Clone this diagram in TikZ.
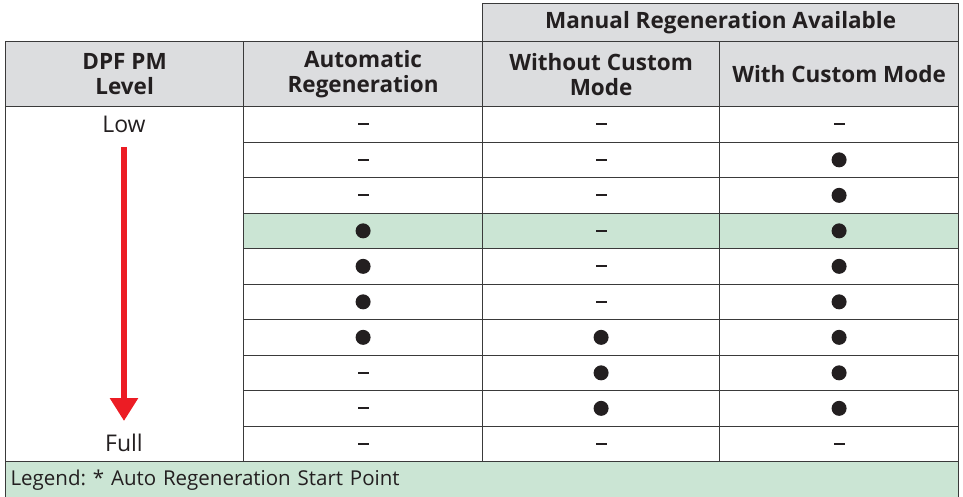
\documentclass[tikz,border=0pt]{standalone}
\usepackage{fontspec}
\setmainfont{Open Sans}
\usepackage{xcolor}
\usetikzlibrary{arrows.meta}
\usetikzlibrary{positioning}
\usetikzlibrary{calc}
\frenchspacing

\definecolor{headgrey}{HTML}{DCDDDF}
\definecolor{startgreen}{HTML}{CBE5D4}
\definecolor{rulegrey}{HTML}{3A3A3A}
\definecolor{arrowred}{HTML}{EC1C24}
\definecolor{inkgrey}{HTML}{231F20}

\begin{document}
\begin{tikzpicture}[x=1pt, y=-1pt,
	cell/.style={draw=rulegrey, line width=1.2pt, rectangle, anchor=north west, inner sep=0pt,
		minimum width=238.5pt, minimum height=35.5pt, text=inkgrey, font=\fontsize{20}{24}\selectfont},
	headcell/.style={cell, fill=headgrey, minimum height=65pt, align=center, font=\bfseries\fontsize{22.5}{25}\selectfont},
	leveltext/.style={text=inkgrey, inner sep=0pt, font=\fontsize{23}{25}\selectfont},
	regdot/.style={fill=inkgrey, circle, inner sep=0pt, minimum size=15pt},
	nomark/.style={fill=inkgrey, rectangle, inner sep=0pt, minimum width=11pt, minimum height=1.8pt}]
	\clip (0,0) rectangle (963,496);
	\useasboundingbox (0,0) rectangle (963,496);
	% header rows
	\node[headcell, minimum width=476pt, minimum height=38pt] (manual) at (482,3) {Manual Regeneration Available};
	\foreach \x/\w/\txt[count = \iCol] in {5/238/{DPF PM\\Level}, 243/239/{Automatic\\Regeneration}, 482/237/{Without Custom\\Mode}, 719/239/{With Custom Mode}}
	{
		\node[headcell, minimum width=\w pt] (head\iCol) at (\x,41) {\txt};
	}
	% level column with the arrow
	\node[cell, minimum width=238pt, minimum height=355pt] (level) at (5,106) {};
	\node[leveltext] (low) at (124,124) {Low};
	\node[leveltext] (full) at (124,443) {Full};
	\coordinate (arrowtop) at (124,147);
	\coordinate (arrowtip) at (124,421);
	\draw[arrowred, line width=6pt, -{Triangle[width=27pt, length=23pt]}] (arrowtop) -- (arrowtip);
	% 1 = available, 0 = not
	\foreach \a/\b/\c[count = \iRow] in {0/0/0, 0/0/1, 0/0/1, 1/0/1, 1/0/1, 1/0/1, 1/1/1, 0/1/1, 0/1/1, 0/0/0}
	{
		\def\rowfill{white}
		\ifnum\iRow=4 \def\rowfill{startgreen}\fi
		\foreach \v/\x/\w[count = \iCol] in {\a/243/239, \b/482/237, \c/719/239}
		{
			\node[cell, fill=\rowfill, minimum width=\w pt] (cell\iRow\iCol) at (\x,{106+(\iRow-1)*35.5}) {};
			\ifnum\v=1
				\node[regdot] at (cell\iRow\iCol.center) {};
			\else
				\node[nomark] at (cell\iRow\iCol.center) {};
			\fi
		}
	}
	% legend
	\node[cell, fill=startgreen, minimum width=953pt, minimum height=38pt, inner xsep=5pt, text width=943pt, align=left,
		font=\fontsize{20.5}{22}\selectfont] (legend) at (5,461) {Legend: * Auto Regeneration Start Point};
\end{tikzpicture}
\end{document}
